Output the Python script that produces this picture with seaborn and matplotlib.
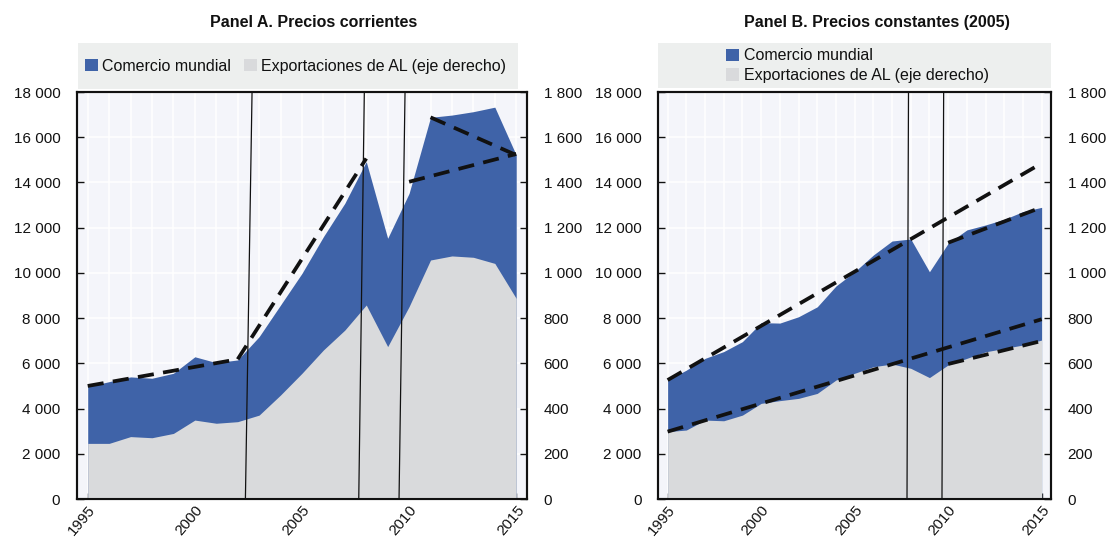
import matplotlib
matplotlib.use("Agg")
import matplotlib.pyplot as plt
import seaborn as sns
import numpy as np
import pandas as pd
from matplotlib.ticker import FuncFormatter, MultipleLocator
from matplotlib.patches import Rectangle, Patch

# ---------------- data ----------------
years = list(range(1995, 2016))

# Panel A: current prices
world_a = [4970, 5190, 5400, 5340, 5560, 6290, 6030, 6150, 7180, 8580, 9980,
           11600, 13080, 14920, 11530, 13520, 16880, 16980, 17130, 17330, 15210]
latam_a = [246, 246, 276, 271, 290, 349, 335, 342, 371, 460, 556,
           659, 747, 858, 674, 851, 1057, 1075, 1069, 1042, 887]

# Panel B: constant prices (2005)
world_b = [5260, 5700, 6220, 6520, 6960, 7800, 7780, 8060, 8500, 9420, 10050,
           10790, 11410, 11500, 10050, 11310, 11900, 12120, 12370, 12710, 12900]
latam_b = [298, 305, 349, 346, 371, 423, 435, 445, 467, 526, 556,
           585, 597, 578, 537, 593, 622, 651, 666, 681, 703]

# Trend segments (left-axis units for world trade, right-axis units for LA exports)
trend_a_years = [[1995, 2002], [2002, 2008], [2010, 2015], [2011, 2015]]
trend_a_vals = [[5000, 6180], [6180, 15060], [14030, 15260], [16880, 15210]]

trend_b_world_years = [[1995, 2015], [2010, 2015]]
trend_b_world_vals = [[5260, 14850], [11335, 12900]]
trend_b_latam_years = [[1995, 2015], [2010, 2015]]
trend_b_latam_vals = [[298, 795], [597, 699]]

# Break lines (slightly slanted in original): year at bottom and at top
breaks_a_bottom = [2002.36, 2007.65, 2009.53]
breaks_a_top = [2002.67, 2007.91, 2009.81]
breaks_b_bottom = [2007.80, 2009.67]
breaks_b_top = [2007.88, 2009.76]

titles = ["Panel A. Precios corrientes", "Panel B. Precios constantes (2005)"]
legend_labels = ["Comercio mundial", "Exportaciones de AL (eje derecho)"]

# ---------------- style ----------------
sns.set_style("ticks")
plt.rcParams['font.family'] = ['Liberation Sans', 'DejaVu Sans']
plt.rcParams['font.size'] = 11

BLUE = "#3F63A8"
GREY = "#D9DADC"
BG = "#F4F5FA"
LEG_BG = "#EDEFEE"
INK = "#111111"
TICK_FS = 11

fig = plt.figure(figsize=(11.11, 5.39), dpi=100)
ax_a = fig.add_axes([0.0693, 0.0742, 0.4050, 0.7551])
ax_b = fig.add_axes([0.5925, 0.0742, 0.3535, 0.7551])

fmt = FuncFormatter(lambda v, p: f"{int(round(v)):,}".replace(",", " "))


def style_axes(ax, ax2):
    ax.set_facecolor(BG)
    ax.set_xlim(1994.5, 2015.5)
    ax.set_ylim(0, 18000)
    ax2.set_ylim(0, 1800)
    ax.xaxis.set_major_locator(MultipleLocator(5))
    ax.xaxis.set_minor_locator(MultipleLocator(1))
    ax.yaxis.set_major_locator(MultipleLocator(2000))
    ax2.yaxis.set_major_locator(MultipleLocator(200))
    ax.yaxis.set_major_formatter(fmt)
    ax2.yaxis.set_major_formatter(fmt)
    ax.set_axisbelow(True)
    ax.grid(True, which='both', axis='x', color='white', lw=1.1)
    ax.grid(True, which='major', axis='y', color='white', lw=1.1)
    ax2.grid(False)
    for a in (ax, ax2):
        for s in a.spines.values():
            s.set_visible(True)
            s.set_color(INK)
            s.set_linewidth(1.5)
    ax.tick_params(axis='y', direction='in', length=5, width=1, colors=INK,
                   labelsize=TICK_FS, pad=12)
    ax2.tick_params(axis='y', direction='in', length=5, width=1, colors=INK,
                    labelsize=TICK_FS, pad=12)
    ax.tick_params(axis='x', which='both', direction='in', length=4, width=1,
                   colors=INK, labelsize=TICK_FS, pad=3)
    for lab in ax.get_xticklabels():
        lab.set_rotation(50)
        lab.set_ha('right')
        lab.set_va('top')
        lab.set_rotation_mode('anchor')
    ax.set_xlabel("")
    ax.set_ylabel("")
    ax2.set_ylabel("")


def dashed(ax, xs, ys):
    sns.lineplot(x=xs, y=ys, ax=ax, color=INK, lw=2.7,
                 linestyle=(0, (4.3, 2.5)), dash_capstyle='butt', zorder=5,
                 legend=False, sort=False)


# ---------------- Panel A ----------------
ax2_a = ax_a.twinx()
ax_a.fill_between(years, 0, world_a, color=BLUE, lw=0, zorder=2)
ax2_a.fill_between(years, 0, latam_a, color=GREY, lw=0, zorder=2)
for xs, ys in zip(trend_a_years, trend_a_vals):
    dashed(ax2_a, xs, [v / 10 for v in ys])
for b0, b1 in zip(breaks_a_bottom, breaks_a_top):
    ax2_a.plot([b0, b1], [0, 1800], color=INK, lw=0.9, zorder=4)
style_axes(ax_a, ax2_a)

# ---------------- Panel B ----------------
ax2_b = ax_b.twinx()
ax_b.fill_between(years, 0, world_b, color=BLUE, lw=0, zorder=2)
ax2_b.fill_between(years, 0, latam_b, color=GREY, lw=0, zorder=2)
for xs, ys in zip(trend_b_world_years, trend_b_world_vals):
    dashed(ax2_b, xs, [v / 10 for v in ys])
for xs, ys in zip(trend_b_latam_years, trend_b_latam_vals):
    dashed(ax2_b, xs, ys)
for b0, b1 in zip(breaks_b_bottom, breaks_b_top):
    ax2_b.plot([b0, b1], [0, 1800], color=INK, lw=0.9, zorder=4)
style_axes(ax_b, ax2_b)

# ---------------- titles & legends ----------------
fig.text(0.282, 0.958, titles[0], ha='center', va='center', fontsize=11.5,
         fontweight='bold', color=INK)
fig.text(0.789, 0.958, titles[1], ha='center', va='center', fontsize=11.5,
         fontweight='bold', color=INK)

fig.patches.append(Rectangle((0.0702, 0.835), 0.396, 0.085, transform=fig.transFigure,
                             facecolor=LEG_BG, edgecolor='none', zorder=0))
fig.patches.append(Rectangle((0.5925, 0.837), 0.3535, 0.083, transform=fig.transFigure,
                             facecolor=LEG_BG, edgecolor='none', zorder=0))

handles = [Patch(facecolor=BLUE, edgecolor='none'), Patch(facecolor=GREY, edgecolor='none')]
fig.legend(handles, legend_labels, loc='center', bbox_to_anchor=(0.266, 0.877),
           ncol=2, frameon=False, fontsize=11.5, handlelength=0.8, handleheight=0.8,
           handletextpad=0.25, columnspacing=0.8, borderaxespad=0, labelcolor=INK)
fig.legend(handles, legend_labels, loc='center', bbox_to_anchor=(0.772, 0.878),
           ncol=1, frameon=False, fontsize=11.5, handlelength=0.8, handleheight=0.8,
           handletextpad=0.3, labelspacing=0.3, borderaxespad=0, labelcolor=INK)

fig.savefig("out.png", dpi=100)
